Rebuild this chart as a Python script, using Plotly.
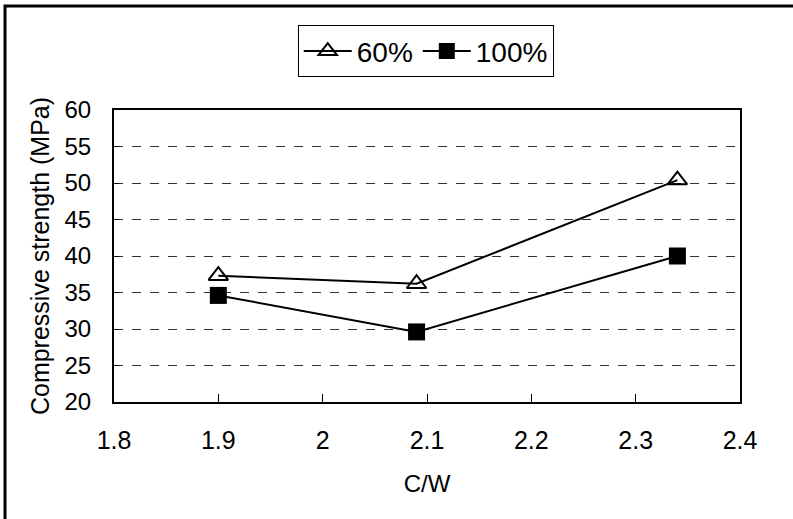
import plotly.graph_objects as go

# C/W ratio and compressive strength for two mixes
cw = [1.9, 2.09, 2.34]
strength_60 = [37.3, 36.2, 50.4]
strength_100 = [34.6, 29.6, 40.0]

x_ticks = [1.8, 1.9, 2.0, 2.1, 2.2, 2.3, 2.4]
x_tick_text = ["1.8", "1.9", "2", "2.1", "2.2", "2.3", "2.4"]
y_ticks = [20, 25, 30, 35, 40, 45, 50, 55, 60]

font_family = "Liberation Sans, Arial, sans-serif"

fig = go.Figure()
fig.add_trace(go.Scatter(
    x=cw, y=strength_60, name="60%", mode="lines+markers",
    line=dict(color="black", width=2),
    marker=dict(symbol="triangle-up-open", size=17, color="black",
                line=dict(width=2, color="black")),
))
fig.add_trace(go.Scatter(
    x=cw, y=strength_100, name="100%", mode="lines+markers",
    line=dict(color="black", width=2),
    marker=dict(symbol="square", size=17, color="black"),
))

fig.update_layout(
    width=793, height=519,
    margin=dict(l=114, r=53, t=110, b=117, autoexpand=False),
    paper_bgcolor="white", plot_bgcolor="white",
    font=dict(family=font_family, size=25, color="black"),
    showlegend=True,
    legend=dict(
        orientation="h", x=0.498, xanchor="center", y=1.29, yanchor="top",
        bordercolor="black", borderwidth=1, bgcolor="white",
        font=dict(size=28), itemwidth=48, tracegroupgap=0,
    ),
    xaxis=dict(
        range=[1.8, 2.4], tickvals=x_ticks, ticktext=x_tick_text,
        showgrid=False, zeroline=False,
        showline=True, linecolor="black", linewidth=2, mirror=True,
        ticks="inside", ticklen=8, tickcolor="black", tickwidth=1,
        tickfont=dict(size=25),
        ticklabelstandoff=15,
        title=dict(text="C/W", standoff=22, font=dict(size=24)),
    ),
    yaxis=dict(
        range=[20, 60], tickvals=y_ticks,
        showgrid=True, gridcolor="#333333", griddash="dash", gridwidth=1,
        zeroline=False,
        showline=True, linecolor="black", linewidth=2, mirror=True,
        ticks="inside", ticklen=5, tickcolor="black", tickwidth=1,
        tickfont=dict(size=24),
        ticklabelstandoff=16,
        title=dict(text="Compressive strength (MPa)", standoff=8, font=dict(size=25)),
    ),
)

# Outer frame around the chart area
fig.add_shape(
    type="rect", xref="paper", yref="paper",
    x0=(5 - 114) / 626, x1=1.3, y0=-0.6, y1=(402 - 6) / 292,
    line=dict(color="black", width=3), fillcolor="rgba(0,0,0,0)", layer="above",
)

fig.write_html("out.html")
